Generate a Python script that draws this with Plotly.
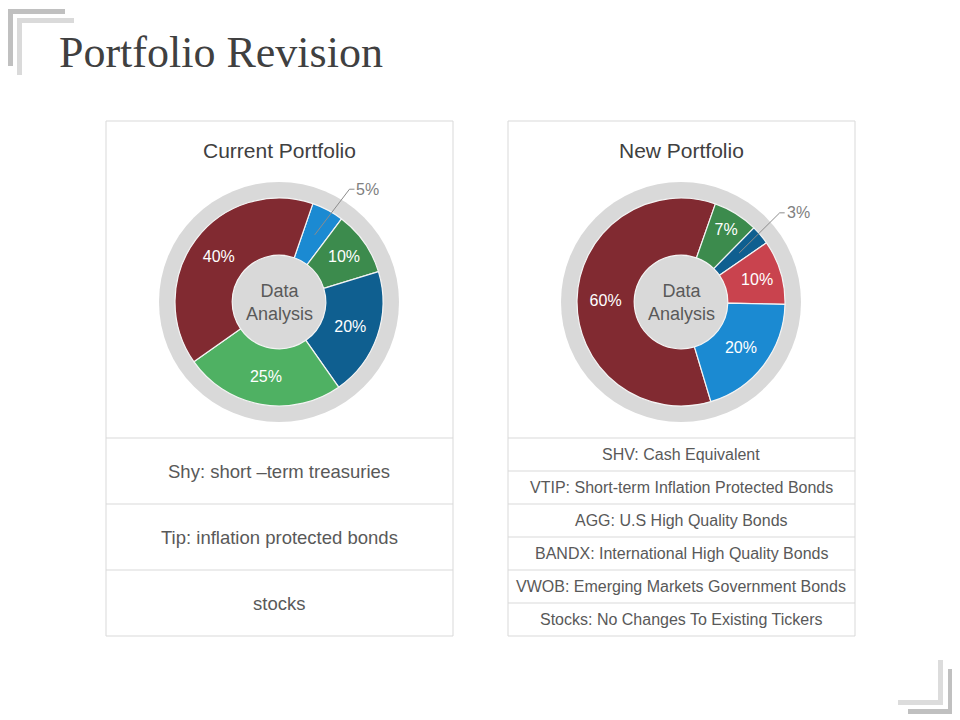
import math
import plotly.graph_objects as go

# page body has an 8px margin, so the figure is 952x712 and offset by 8px
OFF = 8
W, H = 960 - OFF, 720 - OFF

# ---------------- data ----------------
current_labels = ["Cash", "Short-term treasuries", "Inflation protected bonds", "Bonds", "Stocks"]
current_values = [5, 10, 20, 25, 40]
current_colors = ["#1b8ad2", "#3c8b4d", "#0f5f90", "#4fb163", "#812a31"]
current_rotation = 19  # start angle of first slice (deg, clockwise from 12 o'clock)

new_labels = ["Stocks", "SHV", "VTIP", "AGG", "BANDX"]
new_values = [60, 7, 3, 10, 20]
new_colors = ["#812a31", "#3c8b4d", "#0f5f90", "#c9434e", "#1b8ad2"]
new_rotation = 163.3

current_rows = ["Shy: short \u2013term treasuries", "Tip: inflation protected bonds", "stocks"]
new_rows = [
    "SHV: Cash Equivalent",
    "VTIP: Short-term Inflation Protected Bonds",
    "AGG: U.S High Quality Bonds",
    "BANDX: International High Quality Bonds",
    "VWOB: Emerging Markets Government Bonds",
    "Stocks: No Changes To Existing Tickers",
]

title = "Portfolio Revision"
panel_titles = ["Current Portfolio", "New Portfolio"]
center_text = "Data<br>Analysis"

# ---------------- helpers ----------------
def px(x):
    return (x - OFF) / W

def py(y):
    return 1 - (y - OFF) / H

FONT = "Liberation Sans, Arial, sans-serif"
GRAY_TXT = "#595959"
BORDER = "#d9d9d9"

fig = go.Figure()
shapes = []
annotations = []

panels = [
    dict(x0=106, x1=453, cx=279, labels=current_labels, values=current_values,
         colors=current_colors, rot=current_rotation, rows=current_rows, rowfont=18.5,
         small_offset=4),
    dict(x0=508, x1=855, cx=681, labels=new_labels, values=new_values,
         colors=new_colors, rot=new_rotation, rows=new_rows, rowfont=16,
         small_offset=-2),
]

CY = 302
R_RING = 120
R_PIE = 104
HOLE = 0.45
TOP, TABLE_TOP, BOTTOM = 121, 438, 636

for i, p in enumerate(panels):
    cx = p["cx"]
    # panel border
    shapes.append(dict(type="rect", xref="paper", yref="paper",
                       x0=px(p["x0"]), x1=px(p["x1"]), y0=py(BOTTOM), y1=py(TOP),
                       line=dict(color=BORDER, width=1), fillcolor="rgba(0,0,0,0)", layer="below"))
    # table rows
    n = len(p["rows"])
    rh = (BOTTOM - TABLE_TOP) / n
    for k, txt in enumerate(p["rows"]):
        yt = TABLE_TOP + k * rh
        shapes.append(dict(type="line", xref="paper", yref="paper",
                           x0=px(p["x0"]), x1=px(p["x1"]), y0=py(yt), y1=py(yt),
                           line=dict(color=BORDER, width=1), layer="below"))
        annotations.append(dict(xref="paper", yref="paper", x=px(cx), y=py(yt + rh / 2),
                                text=txt, showarrow=False, xanchor="center", yanchor="middle",
                                font=dict(family=FONT, size=p["rowfont"], color=GRAY_TXT)))
    # panel title
    annotations.append(dict(xref="paper", yref="paper", x=px(cx), y=py(150),
                            text=panel_titles[i], showarrow=False, xanchor="center", yanchor="middle",
                            font=dict(family=FONT, size=21, color="#404040")))
    # grey ring background
    shapes.append(dict(type="circle", xref="paper", yref="paper",
                       x0=px(cx - R_RING), x1=px(cx + R_RING), y0=py(CY + R_RING), y1=py(CY - R_RING),
                       fillcolor="#d9d9d9", line=dict(width=0), layer="below"))
    # pie
    vals = p["values"]
    total = sum(vals)
    positions = ["inside" if v > 5 else "none" for v in vals]
    fig.add_trace(go.Pie(
        labels=p["labels"], values=vals, sort=False, direction="clockwise",
        rotation=p["rot"], hole=HOLE,
        marker=dict(colors=p["colors"], line=dict(color="#f4f4f4", width=1.2)),
        textinfo="percent", texttemplate="%{value}%", textposition=positions,
        insidetextorientation="horizontal",
        insidetextfont=dict(family=FONT, size=16, color="white"),
        domain=dict(x=[px(cx - R_PIE), px(cx + R_PIE)], y=[py(CY + R_PIE), py(CY - R_PIE)]),
        showlegend=False, hoverinfo="label+percent",
    ))
    # center text
    annotations.append(dict(xref="paper", yref="paper", x=px(cx), y=py(CY),
                            text=center_text, showarrow=False, xanchor="center", yanchor="middle",
                            font=dict(family=FONT, size=18, color=GRAY_TXT)))
    # leader-line labels for the small slices
    start = p["rot"]
    for v, pos in zip(vals, positions):
        ang = v / total * 360
        if pos == "none":
            mid = math.radians(start + ang / 2)
            sx, sy = cx + 76 * math.sin(mid), CY - 76 * math.cos(mid)
            ea = mid + math.radians(p["small_offset"])
            ex, ey = cx + 133 * math.sin(ea), CY - 133 * math.cos(ea)
            shapes.append(dict(type="path", xref="paper", yref="paper",
                               path=f"M {px(sx)},{py(sy)} L {px(ex)},{py(ey)} L {px(ex + 5)},{py(ey)}",
                               line=dict(color="#8c8c8c", width=1)))
            annotations.append(dict(xref="paper", yref="paper", x=px(ex + 5), y=py(ey),
                                    text=f"{v}%", showarrow=False, xanchor="left", yanchor="middle",
                                    font=dict(family=FONT, size=16, color="#808080")))
        start += ang

# title
annotations.append(dict(xref="paper", yref="paper", x=px(57), y=py(53), text=title,
                        showarrow=False, xanchor="left", yanchor="middle",
                        font=dict(family="Liberation Serif, Times New Roman, serif", size=44, color="#404040")))

# corner decorations
def L_shape(x0, y0, length, t, color, corner="tl"):
    out = []
    if corner == "tl":
        out.append(dict(x0=x0, x1=x0 + length, y0=y0, y1=y0 + t))
        out.append(dict(x0=x0, x1=x0 + t, y0=y0, y1=y0 + length))
    else:
        out.append(dict(x0=x0 - length, x1=x0, y0=y0 - t, y1=y0))
        out.append(dict(x0=x0 - t, x1=x0, y0=y0 - length, y1=y0))
    res = []
    for o in out:
        res.append(dict(type="rect", xref="paper", yref="paper",
                        x0=px(o["x0"]), x1=px(o["x1"]), y0=py(o["y1"]), y1=py(o["y0"]),
                        fillcolor=color, line=dict(width=0), layer="below"))
    return res

shapes += L_shape(8, 9, 57, 5, "#c0c0c0", "tl")
shapes += L_shape(17, 18, 57, 5, "#dadada", "tl")
shapes += L_shape(943, 705, 45, 5, "#dcdcdc", "br")
shapes += L_shape(953, 714, 45, 5, "#c0c0c0", "br")

fig.update_layout(
    width=W, height=H, autosize=False,
    margin=dict(l=0, r=0, t=0, b=0),
    paper_bgcolor="white", plot_bgcolor="white",
    shapes=shapes, annotations=annotations,
)

fig.write_html("out.html", config={"displayModeBar": False})
